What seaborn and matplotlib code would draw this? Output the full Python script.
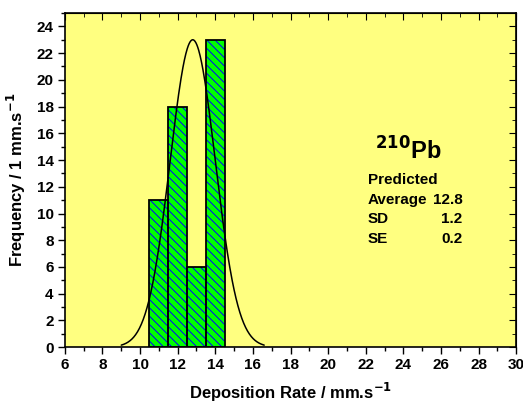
import numpy as np
import pandas as pd
import matplotlib
matplotlib.use("Agg")
import matplotlib.pyplot as plt
import seaborn as sns
from matplotlib.ticker import MultipleLocator

# Data
bin_edges = [10.5, 11.5, 12.5, 13.5, 14.5]
bin_centers = [11.0, 12.0, 13.0, 14.0]
counts = [11, 18, 6, 23]
fit_mean = 12.8
fit_sd = 1.2
fit_peak = 23.0
fit_range = [9.0, 16.6]

sns.set_style("ticks")
plt.rcParams['font.family'] = ['Liberation Sans', 'DejaVu Sans']
plt.rcParams['font.weight'] = 'bold'
plt.rcParams['text.color'] = 'black'
plt.rcParams['axes.labelcolor'] = 'black'
plt.rcParams['xtick.color'] = 'black'
plt.rcParams['ytick.color'] = 'black'
plt.rcParams['axes.edgecolor'] = 'black'
plt.rcParams['hatch.linewidth'] = 0.7
plt.rcParams['mathtext.default'] = 'bf'

fig = plt.figure(figsize=(5.23, 4.07), dpi=100, facecolor='white')
ax = fig.add_axes([0.124, 0.147, 0.863, 0.821])
ax.set_facecolor('#FFFF80')

df = pd.DataFrame({'x': bin_centers, 'w': counts})
# filled + blue hatch layer
sns.histplot(data=df, x='x', weights='w', bins=bin_edges, color='#00FF00',
             linewidth=0, alpha=1, ax=ax, zorder=2)
for p in ax.patches:
    p.set_hatch('\\' * 4)
    p.set_edgecolor('#0000FF')
    p.set_linewidth(0)
n_fill = len(ax.patches)
# black outline layer
sns.histplot(data=df, x='x', weights='w', bins=bin_edges, fill=False,
             color='black', linewidth=1.3, ax=ax, zorder=2.5)
for p in ax.patches[n_fill:]:
    p.set_edgecolor('black')
    p.set_linewidth(1.3)

xs = np.linspace(fit_range[0], fit_range[1], 300)
ys = fit_peak * np.exp(-0.5 * ((xs - fit_mean) / fit_sd) ** 2)
sns.lineplot(x=xs, y=ys, color='black', linewidth=1.1, ax=ax, zorder=3)

ax.set_xlim(6, 30)
ax.set_ylim(0, 25)
ax.xaxis.set_major_locator(MultipleLocator(2))
ax.xaxis.set_minor_locator(MultipleLocator(1))
ax.yaxis.set_major_locator(MultipleLocator(2))
ax.yaxis.set_minor_locator(MultipleLocator(1))
ax.tick_params(which='major', direction='out', length=5, width=1, labelsize=11, pad=3)
ax.tick_params(which='minor', direction='out', length=3, width=1)
for s in ax.spines.values():
    s.set_linewidth(1.2)
    s.set_visible(True)

# inward ticks on top and right
secx = ax.secondary_xaxis('top')
secx.xaxis.set_major_locator(MultipleLocator(2))
secx.xaxis.set_minor_locator(MultipleLocator(1))
secx.tick_params(which='major', direction='in', length=5, labeltop=False)
secx.tick_params(which='minor', direction='in', length=3)
secy = ax.secondary_yaxis('right')
secy.yaxis.set_major_locator(MultipleLocator(2))
secy.yaxis.set_minor_locator(MultipleLocator(1))
secy.tick_params(which='major', direction='in', length=5, labelright=False)
secy.tick_params(which='minor', direction='in', length=3)

ax.set_xlabel('Deposition Rate / mm.s$^{-1}$', fontsize=12, fontweight='bold', labelpad=6)
ax.set_ylabel('Frequency / 1 mm.s$^{-1}$', fontsize=12, fontweight='bold', labelpad=6)

ax.text(22.5, 14.7, '$^{210}$Pb', fontsize=17, fontweight='bold', ha='left', va='center')
fs = 11
ax.text(22.1, 12.5, 'Predicted', fontsize=fs, fontweight='bold', ha='left', va='center')
ax.text(22.1, 11.0, 'Average', fontsize=fs, fontweight='bold', ha='left', va='center')
ax.text(22.1, 9.6, 'SD', fontsize=fs, fontweight='bold', ha='left', va='center')
ax.text(22.1, 8.1, 'SE', fontsize=fs, fontweight='bold', ha='left', va='center')
ax.text(27.15, 11.0, '12.8', fontsize=fs, fontweight='bold', ha='right', va='center')
ax.text(27.15, 9.6, '1.2', fontsize=fs, fontweight='bold', ha='right', va='center')
ax.text(27.15, 8.1, '0.2', fontsize=fs, fontweight='bold', ha='right', va='center')

fig.savefig('out.png', dpi=100, facecolor='white')
